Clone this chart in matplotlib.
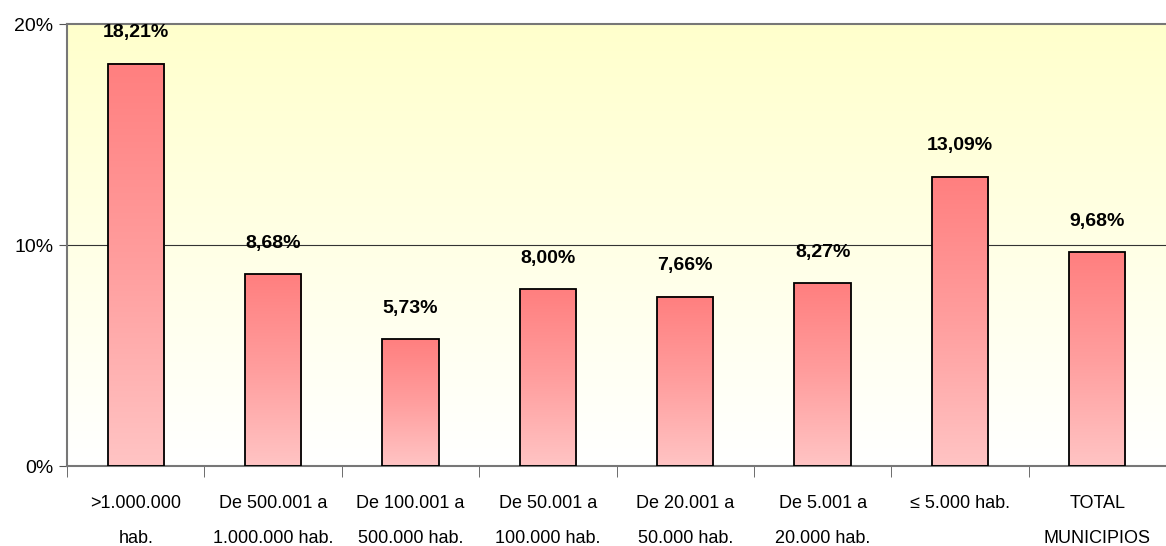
import matplotlib.pyplot as plt
import numpy as np
from matplotlib.colors import LinearSegmentedColormap

# datos
categorias = ['>1.000.000\nhab.', 'De 500.001 a\n1.000.000 hab.', 'De 100.001 a\n500.000 hab.',
              'De 50.001 a\n100.000 hab.', 'De 20.001 a\n50.000 hab.', 'De 5.001 a\n20.000 hab.',
              '≤ 5.000 hab.', 'TOTAL\nMUNICIPIOS']
valores = [18.21, 8.68, 5.73, 8.00, 7.66, 8.27, 13.09, 9.68]
etiquetas = ['18,21%', '8,68%', '5,73%', '8,00%', '7,66%', '8,27%', '13,09%', '9,68%']

plt.rcParams['font.family'] = ['Liberation Sans', 'DejaVu Sans']

fig = plt.figure(figsize=(11.66, 5.46), dpi=100)
ax = fig.add_axes([0.0575, 0.1465, 0.9425, 0.8095])

n = len(valores)
x = np.arange(n)
ancho = 0.41

# fondo degradado amarillo -> blanco
fondo = LinearSegmentedColormap.from_list('fondo', ['#ffffff', '#ffffcc'])
grad = np.linspace(0, 1, 256).reshape(-1, 1)
ax.imshow(grad, extent=[-0.5, n - 0.5, 0, 20], origin='lower', aspect='auto',
          cmap=fondo, zorder=0)

ax.axhline(10, color='#333333', lw=0.8, zorder=1)

# barras con degradado
rojo = LinearSegmentedColormap.from_list('rojo', ['#ffc4c4', '#ff9e9e', '#ff7f7f'])
for xi, v in zip(x, valores):
    ax.imshow(grad, extent=[xi - ancho / 2, xi + ancho / 2, 0, v], origin='lower',
              aspect='auto', cmap=rojo, zorder=2)
ax.bar(x, valores, width=ancho, fill=False, edgecolor='black', linewidth=1.3, zorder=3)

for xi, v, t in zip(x, valores, etiquetas):
    ax.text(xi, v + 1.4, t, ha='center', va='center', fontsize=14,
            fontweight='bold', zorder=4)

ax.set_xlim(-0.5, n - 0.5)
ax.set_ylim(0, 20)
ax.set_yticks([0, 10, 20])
ax.set_yticklabels(['0%', '10%', '20%'], fontsize=14)
ax.tick_params(axis='y', length=6, color='#555555', pad=4)

ax.set_xticks(x)
ax.set_xticklabels(categorias, fontsize=13, linespacing=2.35)
ax.tick_params(axis='x', length=0, pad=21)
ax.set_xticks(np.arange(n + 1) - 0.5, minor=True)
ax.tick_params(axis='x', which='minor', length=8, color='#555555')

for s in ['left', 'bottom', 'top']:
    ax.spines[s].set_color('#777777')
    ax.spines[s].set_linewidth(1.5)
ax.spines['right'].set_visible(False)

fig.savefig('out.png', dpi=100)
